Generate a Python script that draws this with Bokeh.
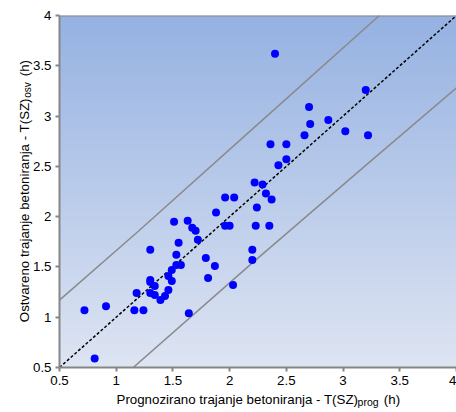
import numpy as np
from math import pi
from bokeh.plotting import figure
from bokeh.models import Range1d, FixedTicker, Label, Span
from bokeh.embed import file_html
from bokeh.resources import INLINE

# ---- data ----
prog = [0.72, 0.91, 0.81, 1.16, 1.24, 1.18, 1.30, 1.30, 1.30, 1.34,
        1.30, 1.34, 1.39, 1.43, 1.46, 1.46, 1.49, 1.49, 1.53, 1.57,
        1.53, 1.55, 1.51, 1.63, 1.67, 1.70, 1.72, 1.64, 1.79, 1.81,
        1.87, 2.03, 1.88, 1.96, 2.04, 1.96, 2.00, 2.20, 2.20, 2.70,
        2.87, 2.71, 2.66, 3.02, 3.22, 2.36, 2.50, 2.50, 2.43, 2.22,
        2.29, 2.32, 2.37, 2.24, 2.23, 2.35, 2.40, 3.20]
ostv = [1.07, 1.11, 0.59, 1.07, 1.07, 1.24, 1.67, 1.37, 1.35, 1.31,
        1.24, 1.22, 1.17, 1.21, 1.27, 1.41, 1.36, 1.47, 1.52, 1.52,
        1.62, 1.74, 1.95, 1.96, 1.89, 1.86, 1.77, 1.04, 1.59, 1.39,
        1.51, 1.32, 2.04, 2.19, 2.19, 1.91, 1.91, 1.67, 1.57, 3.09,
        2.96, 2.92, 2.81, 2.85, 2.81, 2.72, 2.72, 2.57, 2.51, 2.34,
        2.32, 2.23, 2.17, 2.09, 1.91, 1.91, 3.62, 3.26]

ideal_x = [0.5, 4.0]
ideal_y = [0.5, 4.0]
upper_x = [0.5, 1.2, 2.2, 3.32]
upper_y = [1.17, 1.86, 2.87, 4.0]
lower_x = [1.15, 2.18, 3.21, 4.0]
lower_y = [0.5, 1.52, 2.52, 3.28]

x_ticks = [0.5, 1.0, 1.5, 2.0, 2.5, 3.0, 3.5, 4.0]
x_tick_labels = ["0.5", "1", "1.5", "2", "2.5", "3", "3.5", "4"]
y_ticks = [0.5, 1.0, 1.5, 2.0, 2.5, 3.0, 3.5, 4.0]
y_tick_labels = ["0.5", "1", "1.5", "2", "2.5", "3", "3.5", "4"]

NB = "\u00a0"
x_label = "Prognozirano  trajanje betoniranja - T(SZ)" + NB * 7 + "(h)"
x_label_sub = "prog"
y_label = "Ostvareno trajanje betoniranja - T(SZ)" + NB * 6 + "(h)"
y_label_sub = "osv"

X0, X1 = 0.5, 4.0
Y0, Y1 = 0.5, 4.0

FONT = "Liberation Sans"
GREY = "#868686"

p = figure(width=456, height=412, x_range=Range1d(X0, X1), y_range=Range1d(Y0, Y1),
           output_backend="svg", toolbar_location=None,
           min_border_left=59, min_border_right=0, min_border_top=15, min_border_bottom=45)
p.outline_line_color = None
p.grid.visible = False
p.background_fill_color = "#ffffff"
p.border_fill_color = "#ffffff"

# gradient background of the plot area
n = 256
top = np.array([150, 178, 226], dtype=float)
bot = np.array([222, 229, 243], dtype=float)
t = np.linspace(0, 1, n)[:, None]
cols = bot * (1 - t) + top * t
img = np.zeros((n, 2), dtype=np.uint32)
view = img.view(dtype=np.uint8).reshape((n, 2, 4))
for k in range(3):
    view[:, :, k] = cols[:, k][:, None].astype(np.uint8)
view[:, :, 3] = 255
p.image_rgba(image=[img], x=X0, y=Y0, dw=X1 - X0, dh=Y1 - Y0)

# lines
p.line(upper_x, upper_y, line_color="#8a8a8a", line_width=1.5)
p.line(lower_x, lower_y, line_color="#8a8a8a", line_width=1.5)
p.line(ideal_x, ideal_y, line_color="black", line_width=1.5, line_dash="3 2")

# points
p.scatter(prog, ostv, size=8, fill_color="#0000FF", line_color=None)

# top border
p.add_layout(Span(location=Y1, dimension="width", line_color=GREY, line_width=2))

# axes
p.xaxis.ticker = FixedTicker(ticks=x_ticks)
p.yaxis.ticker = FixedTicker(ticks=y_ticks)
p.xaxis.major_label_overrides = {float(k): v for k, v in zip(x_ticks, x_tick_labels)}
p.yaxis.major_label_overrides = {float(k): v for k, v in zip(y_ticks, y_tick_labels)}
for ax in (p.xaxis[0], p.yaxis[0]):
    ax.axis_line_color = GREY
    ax.axis_line_width = 2
    ax.major_tick_line_color = GREY
    ax.major_tick_line_width = 2
    ax.major_tick_out = 4
    ax.major_tick_in = 0
    ax.minor_tick_line_color = None
    ax.major_label_text_font = FONT
    ax.major_label_text_font_size = "13.3px"
    ax.major_label_text_color = "#000000"
    ax.major_label_standoff = 4

# axis titles with subscripts: data-unit labels placed in side panels
def lab(x, y, text, size, align, angle=0.0):
    return Label(x=x, y=y, text=text, angle=angle,
                 text_align=align, text_baseline="alphabetic", text_font=FONT,
                 text_font_size=size, text_color="#000000")

p.add_layout(lab(1.0026, 0.185, x_label, "13.3px", "left"), "below")
p.add_layout(lab(3.128, 0.155, x_label_sub, "10.5px", "left"), "above")

p.add_layout(lab(0.191, 3.5596, y_label, "13.3px", "right", pi / 2), "left")
p.add_layout(lab(0.218, 3.182, y_label_sub, "10px", "left", pi / 2), "left")

open("out.html", "w").write(file_html(p, INLINE))
